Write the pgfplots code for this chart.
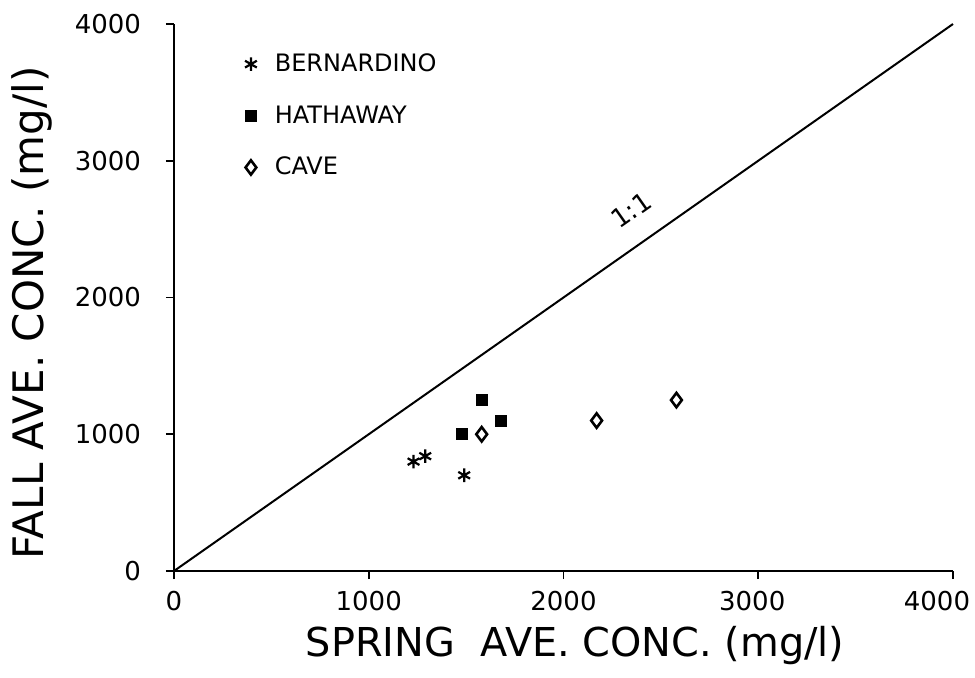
\documentclass[border=0pt]{standalone}
\usepackage{fontspec}
\setmainfont{DejaVu Sans}
\usepackage{pgfplots}
\pgfplotsset{compat=1.18}
\begin{document}
\begin{tikzpicture}[x=1pt,y=1pt]
\useasboundingbox (-87,-53) rectangle (400.5,285.5);
\begin{axis}[
  at={(0,0)}, anchor=south west,
  scale only axis, width=389.5pt, height=273.5pt,
  xmin=0, xmax=4000, ymin=0, ymax=4000,
  axis lines*=left,
  axis line style={line width=1pt},
  xtick={0,1000,2000,3000,4000},
  xticklabels={0,1000,2000,\hspace*{-6pt}3000,\hspace*{-16pt}4000},
  ytick={0,1000,2000,3000,4000},
  tick align=outside, major tick length=4pt,
  tick style={black, line width=0.8pt},
  scaled ticks=false,
  /pgf/number format/1000 sep={},
  /pgf/number format/assume math mode=true,
  ticklabel style={font=\fontsize{13}{13}\selectfont},
  xticklabel style={yshift=-2.5pt},
  yticklabel style={xshift=-9pt},
  xlabel={SPRING\ \ AVE. CONC. (mg/l)},
  ylabel={FALL AVE. CONC. (mg/l)},
  xlabel style={at={(axis description cs:0.515,-0.157)}, anchor=base, font=\fontsize{19.9}{19.9}\selectfont},
  ylabel style={at={(axis description cs:-0.167,0.472)}, anchor=base, font=\fontsize{21}{21}\selectfont},
  legend style={at={(axis description cs:0.083,0.961)}, anchor=north west, draw=none, fill=none,
    font=\fontsize{12}{12}\selectfont, row sep=11.5pt,
    /tikz/every odd column/.append style={column sep=7pt}},
  legend cell align=left,
  clip=false,
]
\addplot[only marks, mark=asterisk, mark size=3.4pt, line width=1.1pt, black] coordinates {(1230,800) (1290,840) (1490,700)};
\addplot[only marks, mark=square*, mark size=2.7pt, black] coordinates {(1580,1250) (1680,1100) (1480,1000)};
\addplot[only marks, mark=diamond, mark size=3.6pt, line width=1.3pt, black] coordinates {(1580,1000) (2170,1100) (2580,1250)};
\legend{BERNARDINO, HATHAWAY, CAVE}
\addplot[no marks, line width=1pt, black, forget plot] coordinates {(0,0) (4000,4000)};
\node[rotate=35.1, font=\fontsize{13}{13}\selectfont] at (axis cs:2347,2640) {1:1};
\end{axis}
\end{tikzpicture}
\end{document}
